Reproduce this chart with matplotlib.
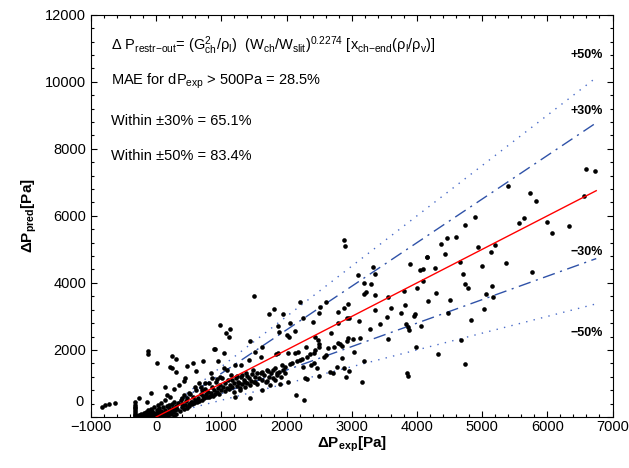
import numpy as np
import matplotlib
matplotlib.use("Agg")
import matplotlib.pyplot as plt
from matplotlib.ticker import MultipleLocator, FuncFormatter

plt.rcParams['font.family'] = ['Liberation Sans', 'DejaVu Sans']
plt.rcParams['mathtext.fontset'] = 'custom'
plt.rcParams['mathtext.rm'] = 'Liberation Sans'
plt.rcParams['mathtext.it'] = 'Liberation Sans:italic'
plt.rcParams['mathtext.bf'] = 'Liberation Sans:bold'

pts = [
    # right part
    (6592, 7394), (6725, 7323), (6557, 6597), (5391, 6905), (5739, 6696), (5825, 6457),
    (5570, 5800), (5647, 5940), (5994, 5812), (6071, 5502), (6327, 5701), (5764, 4319),
    (5371, 4606), (4885, 5961), (4732, 5722), (4598, 5382), (4460, 5352), (4363, 5155),
    (4436, 4866), (4160, 4776), (4931, 5084), (5192, 5134), (5135, 4916), (4666, 4636),
    (4997, 4518), (4090, 4410), (4050, 4370), (4282, 4439), (3898, 4558), (4092, 4051),
    (4000, 3860), (3796, 3770), (3555, 3573), (3438, 2767), (3540, 2994), (3607, 3263),
    (3760, 3113), (3822, 3343), (3831, 2776), (3862, 2677), (3873, 2597), (3949, 3015),
    (3975, 3075), (4067, 2725), (4169, 3463), (4292, 3710), (4512, 3493), (4476, 3093),
    (4701, 4269), (4742, 3970), (4782, 3860), (5150, 3910), (5166, 3573), (5064, 3672),
    (5034, 3224), (4834, 2896), (4681, 2299), (3551, 2337), (3991, 2099), (4322, 1871),
    (4732, 1582), (4154, 4767), (3847, 1323), (3857, 1224),
    # middle part
    (2211, 3442), (2247, 2964), (2400, 2826), (2492, 3113), (2518, 3274), (2604, 3423),
    (2681, 2498), (2784, 2815), (2784, 3144), (2876, 3263), (2942, 3373), (2927, 2946),
    (2952, 2964), (3096, 4239), (3117, 2875), (3183, 4009), (3183, 3663), (3224, 3741),
    (3295, 3970), (3321, 4487), (3351, 4269), (3351, 3642), (3351, 3194), (3275, 2627),
    (2262, 507), (2288, 1155), (2247, 1484), (2211, 1701), (2313, 1782), (2298, 2099),
    (2365, 1881), (2380, 1552), (2416, 1621), (2466, 1454), (2442, 2000), (2431, 2379),
    (2482, 2299), (2503, 2081), (2492, 1224), (2569, 1782), (2604, 1851), (2635, 2051),
    (2672, 1353), (2707, 1304), (2722, 2099), (2788, 2219), (2825, 2170), (2850, 2119),
    (2850, 1752), (2876, 1454), (2917, 1204), (2952, 1383), (2927, 2278), (2942, 2349),
    (3014, 2319), (3040, 1931), (3132, 2367), (3157, 1054), (3193, 1680), (2773, 1502),
    (2876, 5280), (2892, 5100),
    (974, 2746), (1071, 2498), (1138, 2617), (1123, 2379), (882, 2020), (907, 2040),
    (1035, 1920), (948, 1680), (1046, 1454), (1086, 1403), (847, 1323), (856, 1155),
    (932, 1125), (1204, 1552), (1301, 1552), (1419, 1701), (1495, 3612), (1439, 2278),
    (1521, 1950), (1613, 1782), (1623, 2099), (1725, 3075), (1802, 3215), (1863, 2716),
    (1879, 2547), (1843, 1881), (1868, 1901), (1945, 3075), (2006, 2448), (2032, 2379),
    (2048, 2797), (2135, 2576), (2017, 1920), (2135, 1920), (2175, 1950), (2083, 1621),
    (1929, 1552), (1905, 985), (2144, 657), (2313, 1125), (2416, 1920), (2492, 2170),
    (1316, 1254), (1393, 1224), (1469, 1284), (1546, 1323), (1623, 1333), (1710, 1383),
    (1787, 1403), (1853, 1323), (1981, 1502), (2058, 1582), (2160, 1672), (2236, 1722),
    (1265, 1005), (1368, 1054), (1521, 1054), (1699, 1084), (1751, 955), (1828, 1104),
    (2022, 1054), (1291, 806), (1214, 606), (1623, 806), (1445, 558), (1239, 1224),
    (1163, 1104), (984, 1204), (754, 1005), (652, 1024), (703, 806), (805, 606),
    (396, 558), (549, 457), (192, 358),
    # left outliers
    (-824, 307), (-779, 349), (-718, 379), (-626, 427), (-126, 1979), (-126, 1871),
    (13, 1603), (242, 1821), (304, 1731), (218, 1484), (242, 1454), (310, 1343),
    (141, 887), (172, 648), (472, 1522), (560, 1621), (610, 1383), (718, 1680),
    (437, 1155), (422, 1075), (345, 955), (268, 827), (590, 905), (498, 707),
    (-74, 707), (-141, 457), (-258, 576),
    # dense cluster near the origin
    (-330, 20), (-330, 60), (-330, 100), (-330, 150), (-325, 210), (-330, 260),
    (-330, 310), (-330, 360), (-330, 450), (-300, 30), (-280, 10), (-260, 60),
    (-250, 20), (-230, 90), (-220, 40), (-200, 10), (-190, 120), (-180, 60),
    (-160, 30), (-150, 150), (-140, 90), (-130, 20), (-120, 200), (-110, 60),
    (-100, 130), (-90, 30), (-80, 250), (-70, 100), (-60, 170), (-50, 50),
    (-40, 300), (-30, 120), (-20, 20), (0, 80), (10, 200), (20, 350),
    (30, 140), (40, 40), (50, 260), (60, 100), (70, 420), (80, 180),
    (90, 60), (100, 300), (110, 130), (120, 30), (130, 220), (140, 500),
    (150, 90), (160, 340), (170, 160), (180, 40), (190, 260), (200, 120),
    (210, 600), (220, 200), (230, 80), (240, 380), (250, 150), (260, 280),
    (270, 30), (280, 450), (290, 200), (300, 100), (310, 330),
    (320, 250), (340, 420), (360, 180), (380, 520), (390, 300), (400, 380),
    (420, 240), (430, 650), (440, 350), (450, 470), (470, 280), (480, 560),
    (500, 400), (510, 330), (520, 700), (540, 460), (550, 380), (560, 600),
    (580, 420), (600, 520), (610, 800), (620, 450), (640, 580), (660, 470),
    (680, 700), (690, 900), (700, 520), (720, 620), (740, 560), (750, 820),
    (770, 680), (780, 600), (800, 750), (810, 1000), (820, 640), (840, 720),
    (860, 900), (870, 620), (880, 800), (900, 700), (920, 1050), (930, 760),
    (950, 860), (960, 700), (980, 950), (1000, 800), (1010, 1150), (1030, 900),
    (1050, 780), (1060, 1000), (1080, 870), (1100, 1100), (1110, 820), (1130, 950),
    (1150, 1250), (1170, 880), (1190, 1020), (1200, 760), (1220, 1150), (1240, 930),
    (1260, 1050), (1280, 860), (1300, 1200), (1320, 980), (1340, 1100), (1360, 900),
    (1380, 1300), (1400, 1000), (1420, 1150), (1440, 950), (1460, 1080), (1480, 1400),
    (1500, 1050), (1520, 1200), (1550, 980), (1580, 1150), (1600, 1300), (1630, 1100),
    (1650, 1250), (1680, 1050), (1700, 1400), (1730, 1200), (1760, 1300), (1790, 1150),
    (1820, 1450), (1850, 1250), (1880, 1350), (1910, 1200), (1950, 1400), (1980, 1300),
]
dp_exp = [p[0] for p in pts]
dp_pred = [p[1] for p in pts]

# reference lines: perfect agreement and error bands
ref_x = [0, 6750]
band_factor = {'+50%': 1.5, '+30%': 1.3, '-30%': 0.7, '-50%': 0.5}
band_label_y = [10785, 9113, 4934, 2498]
band_label_txt = ['+50%', '+30%', '\u221230%', '\u221250%']

fig = plt.figure(figsize=(6.29, 4.68), dpi=100)
ax = fig.add_axes([0.1447, 0.109, 0.8291, 0.8596])

ax.scatter(dp_exp, dp_pred, s=11, c='black', linewidths=0, zorder=3)

rx = np.array(ref_x)
ax.plot(rx, rx, color='red', lw=1.0, zorder=4)
ax.plot(rx, band_factor['+30%'] * rx, color='#2f52a8', lw=1.0, ls=(0, (9, 4, 1.5, 4)))
ax.plot(rx, band_factor['-30%'] * rx, color='#2f52a8', lw=1.0, ls=(0, (9, 4, 1.5, 4)))
ax.plot(rx, band_factor['+50%'] * rx, color='#4a6cc8', lw=1.0, ls=(0, (1, 4.5)))
ax.plot(rx, band_factor['-50%'] * rx, color='#4a6cc8', lw=1.0, ls=(0, (1, 4.5)))

for t, yy in zip(band_label_txt, band_label_y):
    ax.text(6848, yy, t, ha='right', va='center', fontsize=9, fontweight='bold')

ax.set_xlim(-1000, 7000)
ax.set_ylim(0, 12000)
ax.xaxis.set_major_locator(MultipleLocator(1000))
ax.xaxis.set_minor_locator(MultipleLocator(200))
ax.yaxis.set_major_locator(MultipleLocator(2000))
ax.yaxis.set_minor_locator(MultipleLocator(400))
# the "0" on the y axis is drawn separately, lifted above the x labels
ax.yaxis.set_major_formatter(FuncFormatter(lambda v, p: '' if v == 0 else '%d' % v))
ax.tick_params(which='both', direction='in', top=True, right=True, labelsize=10.5)
ax.tick_params(which='major', length=4, width=0.8)
ax.tick_params(which='minor', length=2.5, width=0.8)
ax.tick_params(axis='x', which='major', pad=2)
ax.text(-0.0134, 0.02, '0', transform=ax.transAxes, ha='right', va='bottom', fontsize=10.5)

ax.set_xlabel('\u0394P$_{\\mathbf{exp}}$[Pa]', fontsize=11, fontweight='bold', labelpad=1)
ax.set_ylabel('\u0394P$_{\\mathbf{pred}}$[Pa]', fontsize=11, fontweight='bold', labelpad=4)

tx = 0.038
ax.text(tx, 0.9123,
        '\u0394 P$_{\\mathrm{restr{-}out}}$= (G$^{2}_{\\mathrm{ch}}$/\u03c1$_{\\mathrm{l}}$)  '
        '(W$_{\\mathrm{ch}}$/W$_{\\mathrm{slit}}$)$^{0.2274}$ [x$_{\\mathrm{ch{-}end}}$(\u03c1$_{\\mathrm{l}}$/\u03c1$_{\\mathrm{v}}$)]',
        transform=ax.transAxes, fontsize=10.5, va='baseline')
ax.text(tx, 0.8253, 'MAE for dP$_{\\mathrm{exp}}$ > 500Pa = 28.5%', transform=ax.transAxes,
        fontsize=10.5, va='baseline')
ax.text(tx, 0.7258, 'Within \u00b130% = 65.1%', transform=ax.transAxes, fontsize=10.5, va='baseline')
ax.text(tx, 0.6388, 'Within \u00b150% = 83.4%', transform=ax.transAxes, fontsize=10.5, va='baseline')

fig.savefig('out.png', dpi=100)
